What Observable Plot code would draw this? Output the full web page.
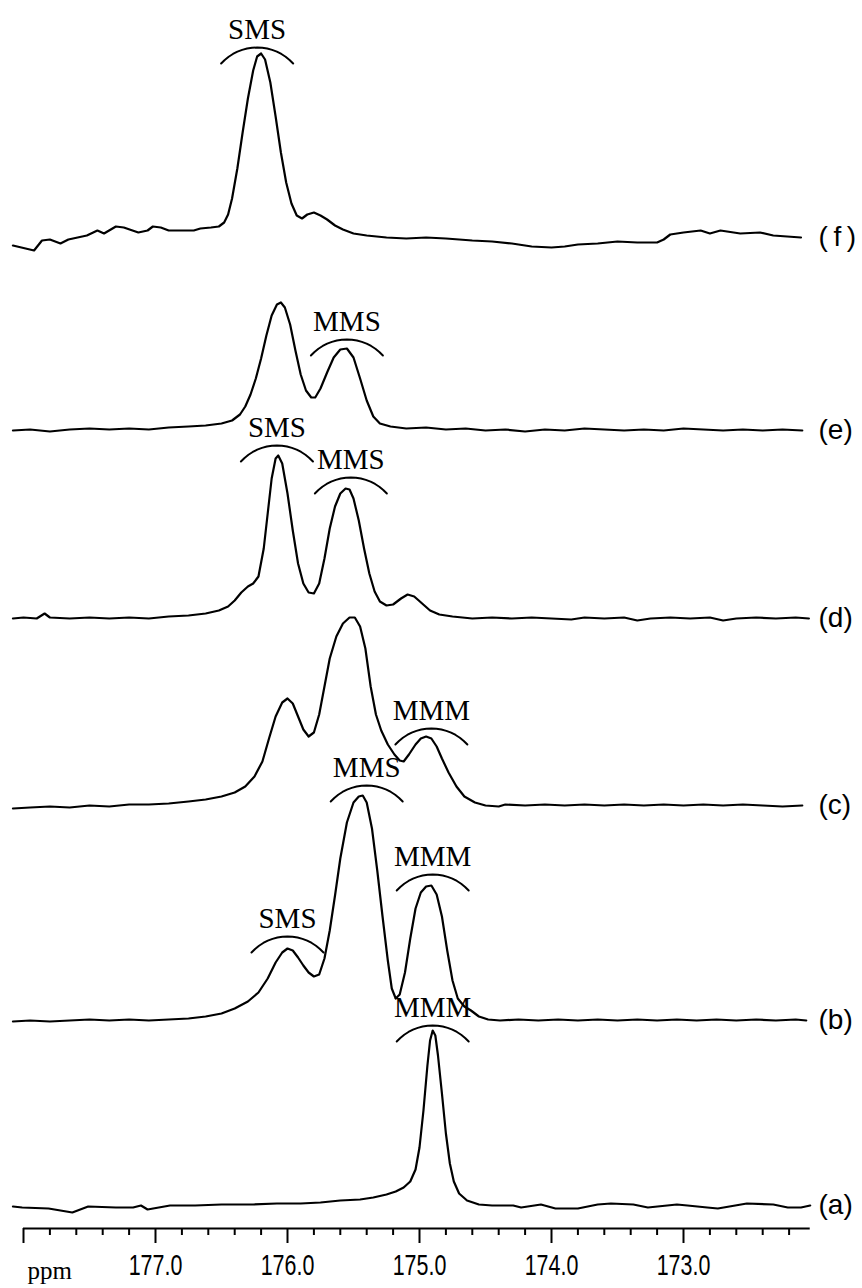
<!DOCTYPE html>
<html>
<head>
<meta charset="utf-8">
<script src="https://cdn.jsdelivr.net/npm/d3@7"></script>
<script src="https://cdn.jsdelivr.net/npm/@observablehq/plot@0.6"></script>
<style>
  html, body { margin: 0; padding: 0; background: #fff; }
  #chart { width: 862px; height: 1288px; }
  svg { display: block; }
</style>
</head>
<body>
<div id="chart"></div>
<script>
// ---- data: [ppm, intensity above the spectrum's own baseline] ----
const specF = [[178.08,-5],[177.92,-10],[177.86,0],[177.80,1],[177.72,-3],[177.66,1],[177.52,5],[177.44,10],[177.39,7],[177.30,14],[177.24,13],[177.13,8],[177.06,10],[177.02,14],[176.96,13],[176.90,10],[176.71,10],[176.66,12],[176.58,13],[176.52,14],[176.48,18],[176.45,26],[176.42,42],[176.38,72],[176.34,108],[176.30,142],[176.26,170],[176.23,184],[176.20,187],[176.17,181],[176.13,158],[176.09,124],[176.05,88],[176.01,58],[175.97,37],[175.93,25],[175.89,22],[175.85,26],[175.80,28],[175.75,25],[175.70,21],[175.64,15],[175.58,11],[175.50,7],[175.40,5],[175.25,3],[175.10,2],[174.95,3],[174.80,2],[174.60,0],[174.45,-1],[174.30,-3],[174.15,-6],[174.00,-7],[173.90,-6],[173.80,-4],[173.65,-3],[173.50,-1],[173.35,-2],[173.20,-2],[173.15,1],[173.10,6],[173.00,8],[172.87,10],[172.80,7],[172.72,10],[172.57,7],[172.42,8],[172.32,5],[172.11,3]];
const specE = [[178.08,0],[177.95,1],[177.80,-1],[177.65,1],[177.50,2],[177.35,1],[177.20,2],[177.05,1],[176.90,3],[176.75,4],[176.62,5],[176.50,7],[176.42,10],[176.36,16],[176.32,24],[176.28,36],[176.24,52],[176.20,72],[176.16,95],[176.12,115],[176.08,126],[176.05,128],[176.02,123],[175.98,106],[175.94,80],[175.90,56],[175.86,40],[175.82,33],[175.79,33],[175.75,42],[175.70,58],[175.65,73],[175.60,81],[175.55,82],[175.50,73],[175.45,52],[175.40,30],[175.35,14],[175.30,7],[175.22,4],[175.10,2],[174.95,3],[174.80,1],[174.65,2],[174.50,0],[174.35,1],[174.20,-1],[174.05,1],[173.90,0],[173.75,2],[173.60,1],[173.45,0],[173.30,1],[173.15,0],[173.00,2],[172.85,1],[172.70,0],[172.55,1],[172.40,0],[172.25,1],[172.10,0]];
const specD = [[178.08,0],[178.00,1],[177.90,0],[177.84,5],[177.80,1],[177.65,0],[177.50,1],[177.35,0],[177.20,1],[177.05,0],[176.90,2],[176.75,3],[176.62,5],[176.52,8],[176.45,12],[176.40,18],[176.35,26],[176.30,32],[176.26,35],[176.22,42],[176.18,70],[176.15,105],[176.12,140],[176.09,160],[176.07,163],[176.04,155],[176.00,125],[175.96,88],[175.92,55],[175.88,35],[175.84,26],[175.80,25],[175.76,35],[175.72,60],[175.68,90],[175.64,112],[175.60,125],[175.56,130],[175.53,129],[175.50,120],[175.46,98],[175.42,70],[175.38,45],[175.34,27],[175.30,17],[175.25,13],[175.20,14],[175.14,20],[175.09,24],[175.04,22],[174.98,15],[174.92,8],[174.85,4],[174.75,2],[174.60,0],[174.45,1],[174.30,0],[174.15,1],[174.00,0],[173.85,-1],[173.75,1],[173.60,0],[173.45,1],[173.35,-2],[173.25,0],[173.10,1],[172.95,0],[172.80,1],[172.70,-2],[172.60,0],[172.45,1],[172.30,0],[172.15,1],[172.05,0]];
const specC = [[178.08,-2],[177.95,-1],[177.80,0],[177.65,-1],[177.50,1],[177.35,0],[177.20,2],[177.05,2],[176.90,3],[176.75,5],[176.62,7],[176.50,10],[176.40,14],[176.32,20],[176.25,30],[176.19,45],[176.14,68],[176.09,90],[176.04,104],[176.00,108],[175.96,103],[175.92,90],[175.88,77],[175.84,70],[175.80,74],[175.76,92],[175.72,120],[175.68,148],[175.63,170],[175.58,183],[175.53,189],[175.49,189],[175.45,180],[175.41,158],[175.37,120],[175.33,92],[175.29,76],[175.24,62],[175.19,52],[175.15,46],[175.12,45],[175.08,52],[175.03,62],[174.99,68],[174.95,70],[174.91,68],[174.87,60],[174.83,48],[174.78,34],[174.72,20],[174.66,10],[174.58,4],[174.50,1],[174.40,0],[174.35,2],[174.20,1],[174.05,2],[173.90,1],[173.75,2],[173.60,1],[173.45,2],[173.30,1],[173.15,2],[173.00,1],[172.85,2],[172.70,1],[172.55,2],[172.40,1],[172.25,0],[172.10,1]];
const specB = [[178.08,-1],[177.95,0],[177.80,-1],[177.65,0],[177.50,1],[177.35,0],[177.20,1],[177.05,0],[176.90,1],[176.75,2],[176.62,4],[176.50,7],[176.40,12],[176.30,19],[176.22,28],[176.15,42],[176.09,58],[176.04,68],[176.00,72],[175.96,70],[175.92,63],[175.88,55],[175.84,48],[175.80,44],[175.76,46],[175.72,62],[175.68,90],[175.64,125],[175.60,162],[175.55,198],[175.50,218],[175.46,224],[175.43,225],[175.40,218],[175.36,192],[175.32,150],[175.28,104],[175.24,60],[175.21,32],[175.18,22],[175.15,26],[175.11,48],[175.07,82],[175.03,112],[174.99,128],[174.95,134],[174.91,135],[174.87,126],[174.83,104],[174.79,70],[174.75,40],[174.71,22],[174.66,14],[174.61,10],[174.55,4],[174.48,1],[174.39,0],[174.25,1],[174.10,0],[173.95,1],[173.80,0],[173.65,1],[173.50,0],[173.35,1],[173.20,0],[173.05,1],[172.90,0],[172.75,1],[172.60,0],[172.45,1],[172.30,0],[172.15,1],[172.07,0]];
const specA = [[178.08,-1],[178.01,-2],[177.81,-3],[177.63,-7],[177.51,-1],[177.30,-2],[177.17,-2],[177.11,0],[177.06,-4],[176.89,0],[176.70,0],[176.50,1],[176.26,1],[176.08,2],[175.90,2],[175.75,3],[175.60,5],[175.45,6],[175.35,8],[175.25,11],[175.18,14],[175.12,18],[175.07,24],[175.03,36],[175.00,58],[174.97,95],[174.94,140],[174.92,165],[174.90,175],[174.88,170],[174.86,150],[174.83,112],[174.80,72],[174.77,42],[174.74,24],[174.70,12],[174.64,5],[174.55,1],[174.45,0],[174.39,0],[174.29,0],[174.23,-2],[174.08,1],[173.97,-3],[173.80,-3],[173.65,1],[173.55,2],[173.38,1],[173.27,-2],[173.05,1],[172.97,0],[172.82,-2],[172.74,-3],[172.52,2],[172.32,1],[172.21,-2],[172.11,-2],[172.04,0]];

const seriesIds    = ["a", "b", "c", "d", "e", "f"];
const seriesLabels = ["(a)", "(b)", "(c)", "(d)", "(e)", "(\u2009f\u2009)"];
const seriesData   = [specA, specB, specC, specD, specE, specF];

// peak assignments: series, text, centre ppm, apex height of the bracket arc
const annSeries = ["f", "e", "d", "d", "c", "b", "b", "b", "a"];
const annText   = ["SMS", "MMS", "SMS", "MMS", "MMM", "SMS", "MMS", "MMM", "MMM"];
const annPpm    = [176.23, 175.55, 176.08, 175.52, 174.91, 176.00, 175.40, 174.90, 174.90];
const annLevel  = [193, 91, 173, 141, 78, 84, 235, 146, 180];

const majorTicks = [177.0, 176.0, 175.0, 174.0, 173.0];
const minorTicks = [177.8,177.6,177.4,177.2,176.8,176.6,176.4,176.2,175.8,175.6,175.4,175.2,174.8,174.6,174.4,174.2,173.8,173.6,173.4,173.2,172.8,172.6,172.4,172.2];

// ---- layout (vertical stacking offsets of each trace) ----
const stackOffset = {a: 0, b: 185, c: 399, d: 587, e: 775, f: 965};

const rows = [];
seriesIds.forEach((id, i) => {
  seriesData[i].forEach(([ppm, v]) => rows.push({id, ppm, y: stackOffset[id] + v}));
});

const seriesEnds = seriesIds.map((id, i) => {
  const d = seriesData[i];
  return {id, label: seriesLabels[i], ppm: 172.0, y: stackOffset[id] + d[d.length - 1][1]};
});

// bracket arcs (circular segment ~72px wide, ~16px high), built in data units
const pxPerPpm = 132;
const arcRows = [];
const labelRows = [];
annText.forEach((t, k) => {
  const id = annSeries[k], c = annPpm[k], top = stackOffset[id] + annLevel[k];
  const half = 36, sag = 16, R = (half * half + sag * sag) / (2 * sag);
  const th = Math.asin(half / R);
  for (let j = 0; j <= 16; j++) {
    const a = -th + (2 * th * j) / 16;
    arcRows.push({k, ppm: c - (R * Math.sin(a)) / pxPerPpm, y: top - (R - R * Math.cos(a))});
  }
  labelRows.push({text: t, ppm: c, y: top});
});

const chart = Plot.plot({
  width: 862,
  height: 1288,
  marginLeft: 23,
  marginRight: 47,
  marginTop: 0,
  marginBottom: 60,
  x: {domain: [178, 172], label: null},
  y: {domain: [0, 1205], range: [1205, 0], axis: null, label: null},
  style: {background: "#fff", color: "#000"},
  marks: [
    Plot.ruleY([0], {y: () => -23, x1: 178, x2: 172.04, stroke: "#000", strokeWidth: 2}),
    Plot.axisX({ticks: minorTicks, tickSize: 7, tickFormat: () => "", strokeWidth: 2, label: null}),
    Plot.axisX({ticks: [178, ...majorTicks], tickSize: 15, tickPadding: 11, strokeWidth: 2, label: null,
      tickFormat: d => d === 178 ? "" : d.toFixed(1),
      fontSize: 29, fontFamily: "'Liberation Sans', Arial, sans-serif"}),
    Plot.text(["ppm"], {frameAnchor: "bottom-left", dx: 4, dy: 50, textAnchor: "start", lineAnchor: "bottom",
      fontSize: 25, fontFamily: "'Liberation Serif', serif"}),
    Plot.line(rows, {x: "ppm", y: "y", z: "id", stroke: "#000", strokeWidth: 2.2, curve: "linear"}),
    Plot.line(arcRows, {x: "ppm", y: "y", z: "k", stroke: "#000", strokeWidth: 2, curve: "linear"}),
    Plot.text(labelRows, {x: "ppm", y: "y", text: "text", dy: -9, lineAnchor: "bottom",
      fontSize: 29, fontFamily: "'Liberation Serif', 'Times New Roman', serif"}),
    Plot.text(seriesEnds, {x: "ppm", y: "y", text: "label", dx: 3, textAnchor: "start", lineAnchor: "middle",
      fontSize: 28, fontFamily: "'Liberation Sans', Arial, sans-serif"})
  ]
});

// narrow the tick numerals (condensed look of the original scale)
d3.select(chart).selectAll('g[aria-label="x-axis tick label"] text').each(function () {
  const el = this;
  let t = el.getAttribute("transform");
  if (!t) {
    const x = +el.getAttribute("x") || 0, y = +el.getAttribute("y") || 0;
    el.removeAttribute("x"); el.removeAttribute("y");
    t = `translate(${x},${y})`;
  }
  el.setAttribute("transform", t + " scale(0.74,1)");
});

document.getElementById("chart").appendChild(chart);
</script>
</body>
</html>
